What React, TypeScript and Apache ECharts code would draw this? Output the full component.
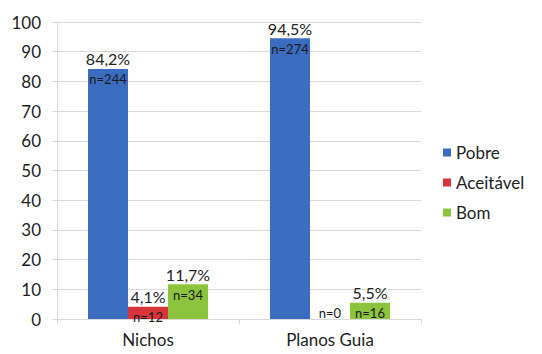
import React, { useEffect, useRef } from "react";
import * as echarts from "echarts";

const categories = ["Nichos", "Planos Guia"];
const seriesNames = ["Pobre", "Aceitável", "Bom"];
const pctPobre = [84.2, 94.5];
const pctAceitavel = [4.1, 0];
const pctBom = [11.7, 5.5];
const nPobre = [244, 274];
const nAceitavel = [12, 0];
const nBom = [34, 16];
const colors = ["#3a6cc0", "#d8343c", "#8cc43e"];

const fmt = (v: number) => v.toFixed(1).replace(".", ",") + "%";

function buildData(pcts: number[], ns: number[]) {
  return pcts.map((v, i) => {
    if (v === 0) {
      return {
        value: v,
        label: { formatter: "{n|n=" + ns[i] + "}", offset: [0, -17] },
      };
    }
    return {
      value: v,
      label: { formatter: "{p|" + fmt(v) + "}\n{n|n=" + ns[i] + "}" },
    };
  });
}

export default function App() {
  const ref = useRef<HTMLDivElement>(null);
  useEffect(() => {
    if (!ref.current) return;
    const chart = echarts.init(ref.current, undefined, { renderer: "svg" });
    const font = "Lato, 'Open Sans', sans-serif";
    const label = {
      show: true,
      position: "insideTop",
      distance: 0,
      offset: [0, -20],
      fontFamily: font,
      rich: {
        p: { fontSize: 16, color: "#222", lineHeight: 20, fontFamily: font },
        n: { fontSize: 13, color: "#1a1a1a", lineHeight: 21, fontFamily: font },
      },
    };
    const allData = [
      buildData(pctPobre, nPobre),
      buildData(pctAceitavel, nAceitavel),
      buildData(pctBom, nBom),
    ];
    chart.setOption({
      animation: false,
      backgroundColor: "#ffffff",
      textStyle: { fontFamily: font },
      grid: { left: 57, right: 121, top: 22, bottom: 35 },
      legend: {
        orient: "vertical",
        left: 438,
        top: 139,
        itemWidth: 8,
        itemHeight: 8,
        itemGap: 13,
        icon: "rect",
        data: seriesNames,
        textStyle: { fontSize: 17, color: "#222", fontFamily: font },
      },
      xAxis: {
        type: "category",
        data: categories,
        axisLine: { show: true, lineStyle: { color: "#d9d9d9" } },
        axisTick: { show: true, length: 5, lineStyle: { color: "#d9d9d9" } },
        axisLabel: { fontSize: 17, color: "#222", margin: 12, fontFamily: font },
      },
      yAxis: {
        type: "value",
        min: 0,
        max: 100,
        interval: 10,
        axisLine: { show: true, lineStyle: { color: "#d9d9d9" } },
        axisTick: { show: true, length: 5, lineStyle: { color: "#d9d9d9" } },
        splitLine: { show: true, lineStyle: { color: "#d9d9d9" } },
        axisLabel: { fontSize: 17, color: "#222", margin: 16, fontFamily: font },
      },
      series: seriesNames.map((name, i) => ({
        name,
        type: "bar",
        barWidth: 40,
        barGap: "0%",
        itemStyle: { color: colors[i] },
        label,
        data: allData[i],
      })),
    });
    return () => chart.dispose();
  }, []);
  return <div ref={ref} style={{ width: 542, height: 354, margin: -8 }} />;
}
